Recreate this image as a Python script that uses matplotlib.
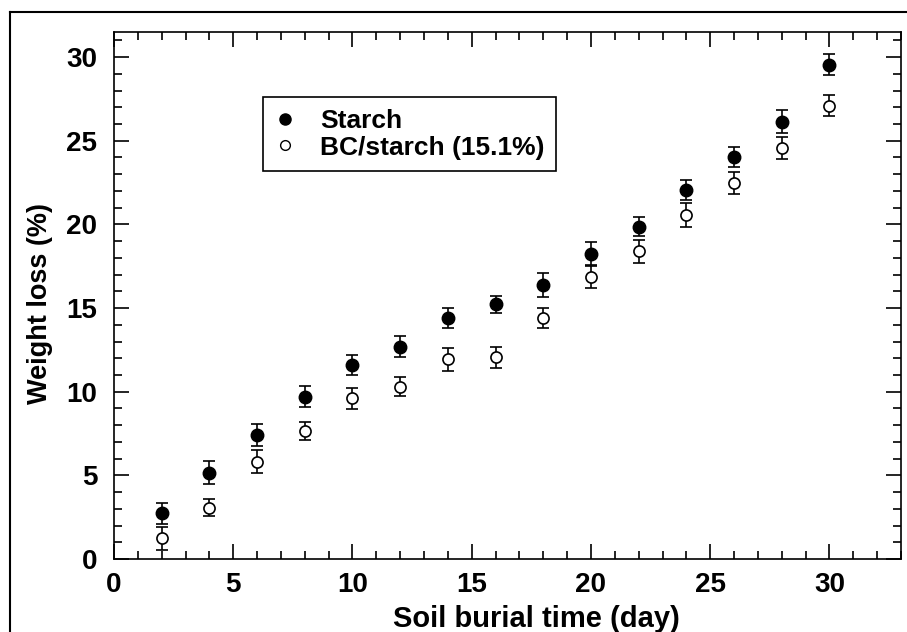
import matplotlib.pyplot as plt
import numpy as np
from matplotlib.lines import Line2D
from matplotlib.ticker import MultipleLocator

plt.rcParams['font.family'] = ['Liberation Sans', 'DejaVu Sans']
plt.rcParams['font.weight'] = 'bold'

# data
days = [2, 4, 6, 8, 10, 12, 14, 16, 18, 20, 22, 24, 26, 28, 30]
starch = [2.73, 5.16, 7.42, 9.71, 11.6, 12.7, 14.4, 15.23, 16.39, 18.26, 19.87, 22.07, 24.02, 26.14, 29.55]
starch_err = [0.62, 0.68, 0.67, 0.64, 0.6, 0.6, 0.6, 0.5, 0.7, 0.68, 0.55, 0.6, 0.6, 0.7, 0.65]
bc = [1.24, 3.07, 5.82, 7.66, 9.61, 10.3, 11.94, 12.06, 14.4, 16.88, 18.38, 20.57, 22.47, 24.56, 27.09]
bc_err = [0.69, 0.52, 0.7, 0.55, 0.64, 0.55, 0.7, 0.64, 0.6, 0.66, 0.7, 0.73, 0.66, 0.65, 0.63]

W, H = 907, 632
fig = plt.figure(figsize=(W / 100, H / 100), dpi=100)

# axes box in pixels: left 114, right 901, top 32, bottom 559
ax = fig.add_axes([114 / W, 1 - 559 / H, (901 - 114) / W, (559 - 32) / H])

ax.errorbar(days, starch, yerr=starch_err, fmt='o', color='black', mfc='black', mec='black',
            ms=9, capsize=4.5, elinewidth=1.2, capthick=1.2, label='Starch')
ax.errorbar(days, bc, yerr=bc_err, fmt='o', color='black', mfc='white', mec='black',
            ms=8, mew=1.2, capsize=4.5, elinewidth=1.2, capthick=1.2, label='BC/starch (15.1%)')

ax.set_xlim(0, 33)
ax.set_ylim(0, 31.5)
ax.xaxis.set_major_locator(MultipleLocator(5))
ax.xaxis.set_minor_locator(MultipleLocator(1))
ax.yaxis.set_major_locator(MultipleLocator(5))
ax.yaxis.set_minor_locator(MultipleLocator(1))
ax.tick_params(which='both', direction='in', top=True, right=True, labelsize=20, width=1.2)
ax.tick_params(which='major', length=11)
ax.tick_params(which='minor', length=6)
ax.tick_params(axis='x', pad=9)
ax.tick_params(axis='y', pad=12)
for s in ax.spines.values():
    s.set_linewidth(1.2)

ax.set_xlabel('Soil burial time (day)', fontsize=21, fontweight='bold')
ax.set_ylabel('Weight loss (%)', fontsize=19.5, fontweight='bold')
# label anchors in pixels: x label centred at x=536 (top ~605), y label centred at y=304 (right edge ~52)
ax.xaxis.set_label_coords((536 - 114) / (901 - 114), -(605 - 559) / (559 - 32), transform=ax.transAxes)
ax.yaxis.set_label_coords(-(114 - 53) / (901 - 114), (559 - 304) / (559 - 32), transform=ax.transAxes)
ax.xaxis.label.set_va('top')

handles = [
    Line2D([], [], ls='none', marker='o', color='black', mfc='black', ms=8),
    Line2D([], [], ls='none', marker='o', color='black', mfc='white', ms=7, mew=1),
]
leg = ax.legend(handles, ['Starch', 'BC/starch (15.1%)'], loc='upper left',
                bbox_to_anchor=(263 / W, 1 - 97 / H), bbox_transform=fig.transFigure,
                fancybox=False, edgecolor='black', framealpha=1, fontsize=19,
                handlelength=0.8, handletextpad=0.9, borderpad=0.45, labelspacing=0.1,
                borderaxespad=0)
leg.get_frame().set_linewidth(1.2)

# outer frame lines (top and left)
fig.add_artist(Line2D([9.5 / W, 9.5 / W], [0, 1 - 12 / H], transform=fig.transFigure,
                      color='black', lw=1.5))
fig.add_artist(Line2D([9.5 / W, 1], [1 - 12 / H, 1 - 12 / H], transform=fig.transFigure,
                      color='black', lw=1.5))

fig.savefig('out.png', dpi=100)
